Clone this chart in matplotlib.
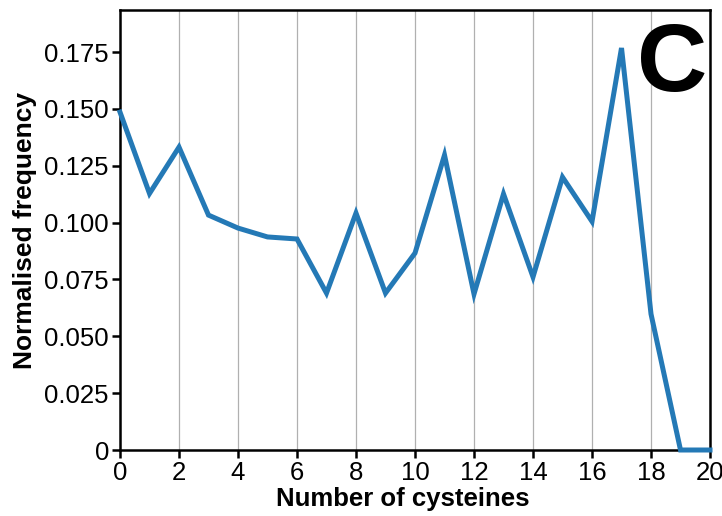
import matplotlib
matplotlib.use("Agg")
import matplotlib.pyplot as plt

# Normalised frequency per number of cysteines
cysteines = list(range(0, 21))
frequency = [0.1486, 0.1128, 0.1332, 0.1033, 0.0976, 0.0937, 0.0928, 0.0690,
             0.1042, 0.0690, 0.0866, 0.1297, 0.0686, 0.1126, 0.0761, 0.1200,
             0.1005, 0.1768, 0.0598, 0.0, 0.0]
x_ticks = [0, 2, 4, 6, 8, 10, 12, 14, 16, 18, 20]
y_ticks = [0, 0.025, 0.05, 0.075, 0.1, 0.125, 0.15, 0.175]
y_labels = ["0", "0.025", "0.050", "0.075", "0.100", "0.125", "0.150", "0.175"]

plt.rcParams["font.family"] = ["Liberation Sans", "DejaVu Sans"]

fig = plt.figure(figsize=(7.22, 5.16), dpi=100)
ax = fig.add_axes([0.1662, 0.1279, 0.8172, 0.8527])

ax.plot(cysteines, frequency, color="#2479b6", lw=3.6, clip_on=False, zorder=5,
        solid_joinstyle="miter")

ax.set_xlim(0, 20)
ax.set_ylim(0, 0.1935)
ax.set_xticks(x_ticks)
ax.set_yticks(y_ticks)
ax.set_yticklabels(y_labels)
ax.xaxis.grid(True, color="#b0b0b0", lw=0.9)
ax.set_axisbelow(True)

for s in ax.spines.values():
    s.set_linewidth(1.8)
ax.tick_params(axis="both", labelsize=18.5, width=1.8, length=6, direction="out", pad=2)

ax.set_xlabel("Number of cysteines", fontsize=18.5, fontweight="bold", labelpad=4)
ax.xaxis.set_label_coords(0.48, -0.085)
ax.set_ylabel("Normalised frequency", fontsize=19, fontweight="bold", labelpad=5)

ax.text(0.935, 0.872, "C", transform=ax.transAxes, fontsize=70, fontweight="bold",
        ha="center", va="center")

fig.savefig("out.png", dpi=100)
